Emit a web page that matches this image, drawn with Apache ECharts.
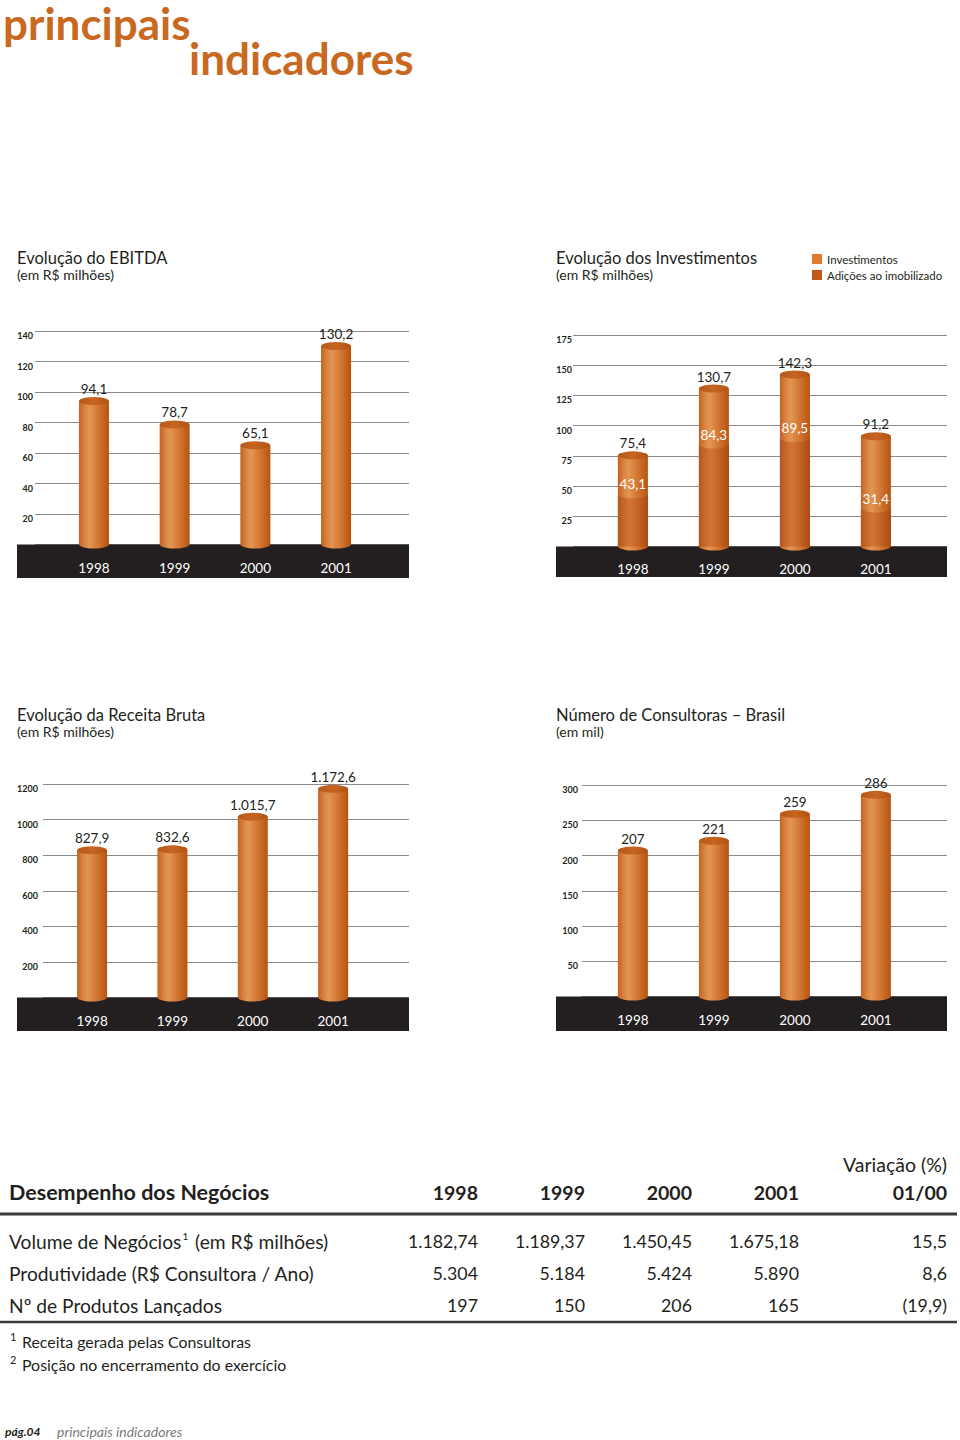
<!DOCTYPE html>
<html><head><meta charset="utf-8">
<script src="https://cdn.jsdelivr.net/npm/echarts@6/dist/echarts.min.js"></script>
<style>html,body{margin:0;padding:0;background:#fff}#c{width:960px;height:1440px}</style>
</head><body><div id="c"></div>
<script>
// ---------- data ----------
const years = ['1998', '1999', '2000', '2001'];
const ebitda = [94.1, 78.7, 65.1, 130.2];
const investimentos = [75.4, 130.7, 142.3, 91.2];
const adicoes = [43.1, 84.3, 89.5, 31.4];
const receita = [827.9, 832.6, 1015.7, 1172.6];
const consultoras = [207, 221, 259, 286];
const ebitdaAxis = { max: 140, interval: 20 };
const invAxis = { max: 175, interval: 25 };
const receitaAxis = { max: 1200, interval: 200 };
const consAxis = { max: 300, interval: 50 };
const seriesNames = ['Investimentos', 'Adições ao imobilizado'];

const tableTitle = 'Desempenho dos Negócios';
const tableYears = ['1998', '1999', '2000', '2001'];
const variationHead = ['Variação (%)', '01/00'];
const rowLabels = [['Volume de Negócios', '1', ' (em R$ milhões)'], ['Produtividade (R$ Consultora / Ano)'], ['Nº de Produtos Lançados']];
const volumeNegocios = [1182.74, 1189.37, 1450.45, 1675.18];
const produtividade = [5304, 5184, 5424, 5890];
const produtosLancados = [197, 150, 206, 165];
const variacao = [15.5, 8.6, -19.9];
const footnotes = [['1', 'Receita gerada pelas Consultoras'], ['2', 'Posição no encerramento do exercício']];

// ---------- helpers ----------
const FONT = 'Lato, "Open Sans", "DejaVu Sans", sans-serif';
function fmtBR(v, dec) {
  const neg = v < 0;
  const s = Math.abs(v).toFixed(dec);
  let [i, d] = s.split('.');
  i = i.replace(/\B(?=(\d{3})+(?!\d))/g, '.');
  const r = d ? i + ',' + d : i;
  return neg ? '(' + r + ')' : r;
}
function grad(stops) {
  return { type: 'linear', x: 0, y: 0, x2: 1, y2: 0, colorStops: stops.map(c => ({ offset: c[0], color: c[1] })) };
}
const LIGHT = grad([[0, '#c4631f'], [0.22, '#dc8644'], [0.36, '#e39552'], [0.65, '#d37634'], [1, '#b5540f']]);
const DARK = grad([[0, '#b5561c'], [0.25, '#cb6b2e'], [0.4, '#d27538'], [0.7, '#c26124'], [1, '#a94b10']]);
const TOP = grad([[0, '#b85816'], [0.5, '#c56520'], [1, '#b35314']]);

const gridDefs = [
  { top: 331, zero: 544.5, bgL: 35, bgR: 409, barL: 53.6, barW: 322.8, lm: 2, xm: 16 },
  { top: 335, zero: 546.5, bgL: 573, bgR: 947, barL: 592.4, barW: 324, lm: 1, xm: 15 },
  { top: 784, zero: 997.5, bgL: 43, bgR: 409, barL: 51.9, barW: 321.4, lm: 5, xm: 16 },
  { top: 785, zero: 996.5, bgL: 582, bgR: 947, barL: 592.4, barW: 324, lm: 4, xm: 16 }
];
const axisCfg = [ebitdaAxis, invAxis, receitaAxis, consAxis];

const grid = [], xAxis = [], yAxis = [];
gridDefs.forEach((g, c) => {
  const h = g.zero - g.top;
  grid.push({ left: g.bgL, width: g.bgR - g.bgL, top: g.top, height: h });
  grid.push({ left: g.barL, width: g.barW, top: g.top, height: h });
  const bi = c * 2, ri = c * 2 + 1;
  xAxis.push({ type: 'value', gridIndex: bi, show: false, min: 0, max: 1 });
  xAxis.push({
    type: 'category', gridIndex: ri, data: years, z: 6,
    axisLine: { show: false }, axisTick: { show: false },
    axisLabel: { color: '#ffffff', fontSize: 13.5, fontFamily: FONT, margin: g.xm }
  });
  yAxis.push({
    type: 'value', gridIndex: bi, min: 0, max: axisCfg[c].max, interval: axisCfg[c].interval,
    axisLine: { show: false }, axisTick: { show: false },
    splitLine: { show: true, lineStyle: { color: '#8a8a8a', width: 1 } },
    axisLabel: {
      margin: g.lm, fontSize: 9, fontWeight: 'bold', color: '#231f20', fontFamily: FONT,
      verticalAlign: 'top', formatter: v => (v === 0 ? '' : String(v))
    }
  });
  yAxis.push({ type: 'value', gridIndex: ri, min: 0, max: axisCfg[c].max, interval: axisCfg[c].interval, show: false, splitLine: { show: false } });
});

const valLabel = (dec, color, dist) => ({
  show: true, position: 'top', distance: dist === undefined ? 5 : dist, color: color || '#231f20', fontSize: 13.5, fontFamily: FONT,
  formatter: p => fmtBR(p.value, dec)
});

function cylinder(ax, data, fill, dec, name) {
  return [
    { type: 'bar', name: name, xAxisIndex: ax, yAxisIndex: ax, data, barWidth: 30, barGap: '-100%', z: 2,
      itemStyle: { color: fill }, label: valLabel(dec) },
    { type: 'pictorialBar', xAxisIndex: ax, yAxisIndex: ax, data, symbol: 'circle', symbolSize: [30, 8],
      symbolPosition: 'start', symbolOffset: [0, '50%'], itemStyle: { color: fill }, z: 2, silent: true },
  ];
}
function topCap(ax, data, color, z) {
  return { type: 'pictorialBar', xAxisIndex: ax, yAxisIndex: ax, data, symbol: 'circle', symbolSize: [30, 8],
    symbolPosition: 'end', symbolOffset: [0, '-50%'], itemStyle: { color }, z, silent: true };
}

const series = [];
series.push(...cylinder(1, ebitda, LIGHT, 1), topCap(1, ebitda, TOP, 3));
series.push(...cylinder(3, investimentos, LIGHT, 1, seriesNames[0]), topCap(3, investimentos, TOP, 6));
series.push({ type: 'bar', name: seriesNames[1], xAxisIndex: 3, yAxisIndex: 3, data: adicoes, barWidth: 30, barGap: '-100%', z: 3, itemStyle: { color: DARK } });
series.push(topCap(3, adicoes, LIGHT, 4));
series.push({ type: 'bar', xAxisIndex: 3, yAxisIndex: 3, data: adicoes, barWidth: 30, barGap: '-100%', z: 10, silent: true,
  itemStyle: { color: 'rgba(0,0,0,0)' }, label: valLabel(1, '#ffffff', 3) });
series.push(...cylinder(5, receita, LIGHT, 1), topCap(5, receita, TOP, 3));
series.push(...cylinder(7, consultoras, LIGHT, 0), topCap(7, consultoras, TOP, 3));

// ---------- graphics ----------
function txt(x, y, text, o) {
  return { type: 'text', x, y, z: 10, silent: true,
    style: Object.assign({ text, fill: '#231f20', fontFamily: FONT, fontSize: 15, align: 'left', verticalAlign: 'middle' }, o || {}) };
}
const graphics = [];
graphics.push(txt(3, 23, 'principais', { fontSize: 44, fontWeight: 'bold', fill: '#c8691f' }));
graphics.push(txt(189, 58, 'indicadores', { fontSize: 44, fontWeight: 'bold', fill: '#c8691f' }));
graphics.push(txt(17, 258, 'Evolução do EBITDA', { fontSize: 16.5 }), txt(17, 274, '(em R$ milhões)', { fontSize: 14 }));
graphics.push(txt(556, 258, 'Evolução dos Investimentos', { fontSize: 16.5 }), txt(556, 274, '(em R$ milhões)', { fontSize: 14 }));
graphics.push(txt(17, 715, 'Evolução da Receita Bruta', { fontSize: 16.5 }), txt(17, 731, '(em R$ milhões)', { fontSize: 14 }));
graphics.push(txt(556, 715, 'Número de Consultoras – Brasil', { fontSize: 16.5 }), txt(556, 731, '(em mil)', { fontSize: 14 }));
const bands = [[17, 544.5, 392, 33.5], [556, 546.5, 391, 30.5], [17, 997.5, 392, 33.5], [556, 996.5, 391, 34.5]];
bands.forEach(b => graphics.push({ type: 'rect', z: 1, silent: true, shape: { x: b[0], y: b[1], width: b[2], height: b[3] }, style: { fill: '#231f20' } }));

// table
const colX = [478, 585, 692, 799];
const varX = 947;
graphics.push(txt(varX, 1164, variationHead[0], { fontSize: 19.5, align: 'right' }));
graphics.push(txt(9, 1192, tableTitle, { fontSize: 21.5, fontWeight: 'bold' }));
tableYears.forEach((y, i) => graphics.push(txt(colX[i], 1192, y, { fontSize: 19.5, fontWeight: 'bold', align: 'right' })));
graphics.push(txt(varX, 1192, variationHead[1], { fontSize: 19.5, fontWeight: 'bold', align: 'right' }));
graphics.push({ type: 'line', z: 10, silent: true, shape: { x1: 0, y1: 1214, x2: 957, y2: 1214 }, style: { stroke: '#3a3a3a', lineWidth: 3 } });
const rowsData = [volumeNegocios.map(v => fmtBR(v, 2)), produtividade.map(v => fmtBR(v, 0)), produtosLancados.map(v => fmtBR(v, 0))];
const rowY = [1241, 1273, 1305];
rowLabels.forEach((parts, r) => {
  const text = parts.length > 1 ? parts[0] + '{s|' + parts[1] + '}' + parts[2] : parts[0];
  graphics.push(txt(9, rowY[r], text, { fontSize: 19.2, rich: { s: { fontSize: 10, fontFamily: FONT, verticalAlign: 'top', padding: [0, 2, 10, 1], fill: '#231f20' } } }));
  rowsData[r].forEach((v, i) => graphics.push(txt(colX[i], rowY[r], v, { fontSize: 17.8, align: 'right' })));
  graphics.push(txt(varX, rowY[r], fmtBR(variacao[r], 1), { fontSize: 17.8, align: 'right' }));
});
graphics.push({ type: 'line', z: 10, silent: true, shape: { x1: 0, y1: 1322, x2: 957, y2: 1322 }, style: { stroke: '#3a3a3a', lineWidth: 2.5 } });
footnotes.forEach((f, i) => {
  graphics.push(txt(10, 1336 + i * 23, f[0], { fontSize: 11 }));
  graphics.push(txt(22, 1341 + i * 23, f[1], { fontSize: 15.9 }));
});
graphics.push(txt(5, 1431, 'pág.04', { fontSize: 12, fontWeight: 'bold', fontStyle: 'italic' }));
graphics.push(txt(57, 1431, 'principais indicadores', { fontSize: 14, fontStyle: 'italic', fill: '#7a7a7a' }));

const chart = echarts.init(document.getElementById('c'), null, { renderer: 'svg' });
chart.setOption({
  animation: false,
  backgroundColor: '#ffffff',
  textStyle: { fontFamily: FONT },
  grid, xAxis, yAxis, series,
  legend: {
    orient: 'vertical', left: 812, top: 253, padding: 0, itemWidth: 10, itemHeight: 10, itemGap: 4, icon: 'rect',
    selectedMode: false,
    textStyle: { fontSize: 11.5, color: '#231f20', fontFamily: FONT },
    data: [
      { name: seriesNames[0], itemStyle: { color: '#e07b2e' } },
      { name: seriesNames[1], itemStyle: { color: '#c2581c' } }
    ]
  },
  graphic: { elements: graphics }
});
</script></body></html>
